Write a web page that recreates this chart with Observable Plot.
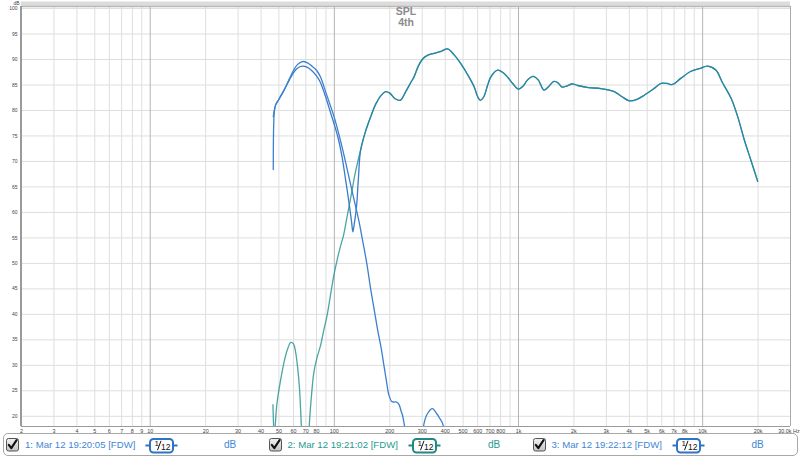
<!DOCTYPE html>
<html><head><meta charset="utf-8">
<script src="https://cdn.jsdelivr.net/npm/d3@7"></script>
<script src="https://cdn.jsdelivr.net/npm/@observablehq/plot@0.6"></script>
<style>
html,body{margin:0;padding:0;background:#fff;width:800px;height:459px;overflow:hidden;font-family:"Liberation Sans",Arial,sans-serif;}
#chart{position:absolute;left:0;top:0;}
#legendBox{position:absolute;left:3px;top:433px;width:795px;height:23px;border:1px solid #a8a8a8;border-radius:5px;box-sizing:border-box;background:#fff;}
.lg{position:absolute;font-size:9.6px;line-height:12px;white-space:nowrap;}
.cb,.ic{position:absolute;}
</style></head><body>
<div id="chart"></div>
<div id="legendBox"></div>
<div id="legend"></div>
<script>
// ---- data ----
const freq1 = [46.6,47.2,48,50,53.3,57,60,63,67,71,75,80,84,90,95.5,100,105,110,118,125,131,136,142,150,157.6,165,171.5,180,186,192,198,205,211,218,224.6,230,234.5,240,248,260,280,300,307,320,341,360,375,387,400,420];
const spl1  = [68.4,79.7,81.1,82.2,84.0,86.2,87.9,89.0,89.6,89.4,88.8,87.9,86.6,83.5,80.8,78.6,75.8,72.9,68.1,64.1,60.9,58.3,54.7,50.0,44.9,40.7,37.1,33.2,29.9,26.8,24.1,22.9,22.8,22.8,22.3,21.1,20.2,18.3,15,12,10,15,18.6,20.5,21.5,20.5,19.5,18.6,16.5,13];

const freq2 = [46.4,47.2,48.0,48.9,51,53.3,55.5,58,60,61.6,63.2,64.7,66.1,67.5,70,72.3,73.2,75.3,77.4,80.5,84,87.5,91.2,95,99.2,104,108,112,117,123,130,139,148,157.6,168,180,190,200,214,228,245,260,271,285,300,320,348,380,412,445,486,530,575,600,620,650,680,708,770,820,870,930,1000,1060,1120,1200,1280,1374,1450,1557,1640,1722,1830,1955,2100,2400,2803,3311,3650,3996,4400,4822,5400,5941,6400,6871,7600,8648,9600,10658,11823,12800,14272,15500,16847,18300,19909];
const spl2  = [22.3,15.5,19.5,22.8,27.0,30.6,33.0,34.5,34.2,32.6,29.5,25.4,18.6,12,5,12,18.6,24.5,28.6,31.5,33.8,36.8,39.7,43.5,47.5,51.0,53.4,55.4,59.0,63.1,67.8,72.3,76.0,78.8,81.3,83.0,83.7,83.4,82.3,82.0,83.8,85.5,86.6,88.6,90.0,90.8,91.2,91.6,92.1,91.0,89.2,87.0,84.6,82.7,82.0,82.8,85.0,86.6,87.9,87.5,86.6,85.3,84.2,84.8,86.0,86.7,86.0,84.0,84.6,85.7,85.4,84.6,84.8,85.2,84.9,84.5,84.3,83.7,82.7,81.9,82.2,83.0,84.2,85.3,85.3,85.1,86.3,87.7,88.2,88.7,87.9,85.5,82.4,78.8,74.2,70.2,66.1];

const freq3 = [46.6,47.2,48,50,53.3,57,60,63,67,71,75,80,84,90,95.5,100,105,110,115,120,124,126,128,132,135,139,148,157.6,168,180,190,200,214,228,245,260,271,285,300,320,348,380,412,445,486,530,575,600,620,650,680,708,770,820,870,930,1000,1060,1120,1200,1280,1374,1450,1557,1640,1722,1830,1955,2100,2400,2803,3311,3650,3996,4400,4822,5400,5941,6400,6871,7600,8648,9600,10658,11823,12800,14272,15500,16847,18300,19909];
const spl3  = [78.8,80.0,81.1,82.2,84.0,86.0,87.4,88.3,88.7,88.5,87.9,86.8,85.5,82.5,79.5,77.2,74.5,71.0,66.5,62.0,58.2,56.2,57.5,61.2,66.5,72.3,76.0,78.8,81.3,83.0,83.7,83.4,82.3,82.0,83.8,85.5,86.6,88.6,90.0,90.8,91.2,91.6,92.1,91.0,89.2,87.0,84.6,82.7,82.0,82.8,85.0,86.6,87.9,87.5,86.6,85.3,84.2,84.8,86.0,86.7,86.0,84.0,84.6,85.7,85.4,84.6,84.8,85.2,84.9,84.5,84.3,83.7,82.7,81.9,82.2,83.0,84.2,85.3,85.3,85.1,86.3,87.7,88.2,88.7,87.9,85.5,82.4,78.8,74.2,70.2,66.1];

const seriesNames = ["1: Mar 12 19:20:05 [FDW]","2: Mar 12 19:21:02 [FDW]","3: Mar 12 19:22:12 [FDW]"];
const xTickValues = [2,3,4,5,6,7,8,9,10,20,30,40,50,60,70,80,100,200,300,400,500,600,700,800,1000,2000,3000,4000,5000,6000,7000,8000,10000,20000];
const xTickLabels = ["2","3","4","5","6","7","8","9","10","20","30","40","50","60","70","80","100","200","300","400","500","600","700","800","1k","2k","3k","4k","5k","6k","7k","8k","10k","20k"];
const xEndLabel = "30.0k Hz";
const minorGrid = [2,3,4,5,6,7,8,9,20,30,40,50,60,70,80,90,200,300,400,500,600,700,800,900,2000,3000,4000,5000,6000,7000,8000,9000,20000];
const decadeGrid = [10,100,1000,10000];
const yTicks = [20,25,30,35,40,45,50,55,60,65,70,75,80,85,90,95,100];
const titleLines = ["SPL","4th"];

const colBlue1 = "#3b80d0", colTeal = "#1f8f8c", colBlue3 = "#3a7bca";
const txtBlue = "#3f86d6", txtTeal = "#26998f";

const rows = (f, s) => f.map((x, i) => ({f: x, db: s[i]}));
const d1 = rows(freq1, spl1), d2 = rows(freq2, spl2), d3 = rows(freq3, spl3);
const crv = "catmull-rom";

const chart = Plot.plot({
  width: 800, height: 434,
  marginLeft: 21, marginRight: 10, marginTop: 6, marginBottom: 8,
  x: {type: "log", domain: [2, 30000], axis: null},
  y: {domain: [18, 100.4], axis: null},
  style: {background: "#fff", fontFamily: "Liberation Sans, Arial, sans-serif"},
  marks: [
    Plot.ruleY([100.4], {stroke: "#dcdcdc", strokeWidth: 5, dy: -2.5}),
    Plot.ruleX(minorGrid, {stroke: "#dedede", strokeWidth: 1}),
    Plot.ruleY(yTicks, {stroke: "#dedede", strokeWidth: 1}),
    Plot.ruleX(decadeGrid, {stroke: "#b4b4b4", strokeWidth: 1}),
    Plot.ruleY([100.4], {stroke: "#b8b8b8", strokeWidth: 1.5}),
    Plot.ruleX([30000], {stroke: "#aaaaaa", strokeWidth: 1}),
    Plot.ruleY([18], {stroke: "#9a9a9a", strokeWidth: 1}),
    Plot.ruleX([2], {stroke: "#9a9a9a", strokeWidth: 2, dx: -0.5}),
    Plot.line(d3, {x: "f", y: "db", stroke: colBlue3, strokeWidth: 1.3, curve: crv, clip: true}),
    Plot.line(d1, {x: "f", y: "db", stroke: colBlue1, strokeWidth: 1.3, curve: crv, clip: true}),
    Plot.line(d2, {x: "f", y: "db", stroke: colTeal, strokeWidth: 1.3, strokeOpacity: 0.8, curve: crv, clip: true}),
    Plot.text(yTicks, {y: d => d, frameAnchor: "left", dx: -4, textAnchor: "end", fontSize: 5, fill: "#444"}),
    Plot.text(["dB"], {frameAnchor: "top-left", dx: -8, dy: -3.5, lineAnchor: "middle", fontSize: 5, fill: "#444"}),
    Plot.text(xTickValues, {x: d => d, text: (d, i) => xTickLabels[i], frameAnchor: "bottom", dy: 5, lineAnchor: "middle", fontSize: 5.4, fill: "#444"}),
    Plot.text([30000], {x: d => d, text: [xEndLabel], frameAnchor: "bottom", dy: 5, dx: -1.5, lineAnchor: "middle", fontSize: 5.4, fill: "#444"}),
    Plot.text([titleLines[0]], {frameAnchor: "top", dy: 5.5, lineAnchor: "middle", fontSize: 10.5, fontWeight: "bold", fill: "#8c8c8c"}),
    Plot.text([titleLines[1]], {frameAnchor: "top", dy: 16, lineAnchor: "middle", fontSize: 10.5, fontWeight: "bold", fill: "#8c8c8c"})
  ]
});
document.getElementById("chart").appendChild(chart);

// ---- legend ----
const legend = document.getElementById("legend");
function checkbox(x) {
  return `<svg class="cb" style="left:${x}px;top:438px" width="13" height="14" viewBox="0 0 13 14">
    <defs><linearGradient id="g${Math.round(x)}" x1="0" y1="0" x2="0" y2="1"><stop offset="0" stop-color="#f2f2f2"/><stop offset="1" stop-color="#c4c4c4"/></linearGradient></defs>
    <rect x="0.5" y="0.5" width="12" height="12.5" rx="2" fill="url(#g${Math.round(x)})" stroke="#555"/>
    <path d="M2.8 6.8 L5.3 10.2 L10.6 2.2" fill="none" stroke="#111" stroke-width="2.1" stroke-linecap="round" stroke-linejoin="round"/>
  </svg>`;
}
function icon(x, col) {
  return `<svg class="ic" style="left:${x}px;top:437px" width="33" height="17" viewBox="0 0 33 17">
    <line x1="0.5" y1="8.5" x2="5" y2="8.5" stroke="${col}" stroke-width="2"/>
    <line x1="28" y1="8.5" x2="32.5" y2="8.5" stroke="${col}" stroke-width="2"/>
    <rect x="5" y="2" width="23" height="13.5" rx="3.5" fill="#fff" stroke="${col}" stroke-width="2"/>
    <text x="9.5" y="9" font-size="8" font-family="Liberation Sans, Arial" fill="#111">1</text>
    <line x1="12.5" y1="13.2" x2="16" y2="3.8" stroke="#111" stroke-width="1"/>
    <text x="16" y="13.4" font-size="8.5" font-family="Liberation Sans, Arial" fill="#111">12</text>
  </svg>`;
}
const lgItems = [
  {cb: 6, tx: 25, ic: 145, db: 224, col: txtBlue, line: "#2f72c6"},
  {cb: 269, tx: 287.5, ic: 408, db: 488, col: txtTeal, line: "#1e8a82"},
  {cb: 532.5, tx: 551.5, ic: 672, db: 751.5, col: txtBlue, line: "#2f72c6"}
];
let html = "";
lgItems.forEach((it, i) => {
  html += checkbox(it.cb);
  html += `<div class="lg" style="left:${it.tx}px;top:439px;color:${it.col}">${seriesNames[i]}</div>`;
  html += icon(it.ic, it.line);
  html += `<div class="lg" style="left:${it.db}px;top:439px;color:${it.col};font-size:10px">dB</div>`;
});
legend.innerHTML = html;
</script>
</body></html>
